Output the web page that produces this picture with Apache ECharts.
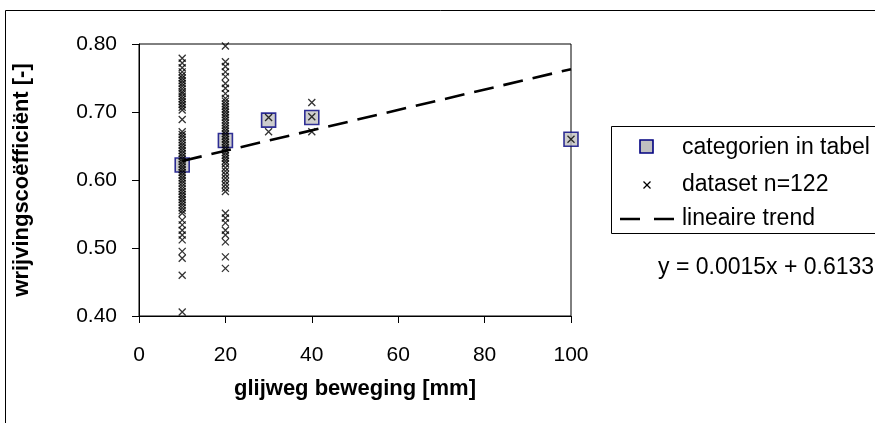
<!DOCTYPE html>
<html><head><meta charset="utf-8">
<script src="https://cdn.jsdelivr.net/npm/echarts@6/dist/echarts.min.js"></script>
<style>html,body{margin:0;padding:0;background:#fff}#c{width:875px;height:423px}</style>
</head><body><div id="c"></div>
<script>
// categories in table (glijweg mm, wrijvingscoëfficiënt)
const catX = [10, 20, 30, 40, 100];
const catY = [0.622, 0.658, 0.688, 0.692, 0.660];
// dataset n=122 : y values per slip distance
const data10 = [0.779,0.772,0.765,0.759,0.754,0.750,0.746,0.742,0.738,0.734,0.730,0.727,0.723,0.719,0.715,0.711,0.707,0.703,0.689,0.671,0.667,0.663,0.659,0.655,0.651,0.647,0.643,0.639,0.635,0.631,0.627,0.623,0.619,0.615,0.611,0.607,0.603,0.599,0.595,0.591,0.587,0.583,0.579,0.575,0.571,0.567,0.563,0.559,0.555,0.551,0.541,0.534,0.526,0.519,0.512,0.495,0.485,0.460,0.406];
const data20 = [0.797,0.774,0.767,0.759,0.752,0.742,0.735,0.727,0.720,0.716,0.712,0.708,0.704,0.700,0.696,0.692,0.688,0.684,0.680,0.676,0.672,0.668,0.664,0.660,0.656,0.652,0.648,0.644,0.640,0.636,0.632,0.628,0.624,0.618,0.613,0.608,0.603,0.598,0.593,0.588,0.583,0.551,0.544,0.537,0.526,0.519,0.509,0.487,0.470];
const data30 = [0.692,0.671];
const data40 = [0.714,0.693,0.671];
const data100 = [0.660];
// linear trend y = 0.0015x + 0.6133 (endpoints as drawn)
const trendX = [10, 100];
const trendY = [0.628, 0.763];

const pts = [];
[[10,data10],[20,data20],[30,data30],[40,data40],[100,data100]].forEach(([x,arr])=>arr.forEach(v=>pts.push([x,v])));
const catData = catX.map((x,i)=>[x,catY[i]]);
const trendData = trendX.map((x,i)=>[x,trendY[i]]);

const FONT = 'Liberation Sans, Arial, sans-serif';
const crossPath = 'path://M0,0L10,10M10,0L0,10';
const chart = echarts.init(document.getElementById('c'), null, {renderer:'canvas'});
chart.setOption({
  animation:false,
  backgroundColor:'#fff',
  grid:{left:139, right:304, top:44, bottom:107, show:true, borderColor:'#000', borderWidth:1, backgroundColor:'transparent'},
  xAxis:{type:'value', min:0, max:100, interval:20,
    axisLine:{show:true, lineStyle:{color:'#000'}}, axisTick:{show:true, length:7, lineStyle:{color:'#000'}},
    splitLine:{show:false},
    axisLabel:{color:'#000', fontFamily:FONT, fontSize:21, margin:29, formatter:v=>String(v)},
    name:'glijweg beweging [mm]', nameLocation:'middle', nameGap:62,
    nameTextStyle:{color:'#000', fontFamily:FONT, fontSize:22, fontWeight:'bold'}},
  yAxis:{type:'value', min:0.4, max:0.8, interval:0.1,
    axisLine:{show:true, lineStyle:{color:'#000'}}, axisTick:{show:true, inside:false, length:7, lineStyle:{color:'#000'}},
    splitLine:{show:false},
    axisLabel:{color:'#000', fontFamily:FONT, fontSize:21, margin:22, formatter:v=>v.toFixed(2)},
    name:'wrijvingscoëfficiënt [-]', nameLocation:'middle', nameGap:106, nameRotate:90,
    nameTextStyle:{color:'#000', fontFamily:FONT, fontSize:22, fontWeight:'bold'}},
  series:[
    {name:'lineaire trend', type:'line', data:trendData, symbol:'none', z:3,
      lineStyle:{color:'#000', width:2.6, type:[20,10]}},
    {name:'dataset n=122', type:'scatter', data:pts, symbol:crossPath, symbolSize:7, z:4,
      itemStyle:{color:'none', borderColor:'#000', borderWidth:1.3}},
    {name:'categorien in tabel', type:'scatter', data:catData, symbol:'rect', symbolSize:14, z:2,
      itemStyle:{color:'#c0c0c0', borderColor:'#000080', borderWidth:1.6}}
  ],
  graphic:[
    {type:'rect', shape:{x:5.5, y:10.5, width:900, height:450}, style:{fill:'none', stroke:'#000', lineWidth:1}, silent:true},
    {type:'rect', shape:{x:611.5, y:126.5, width:300, height:107}, style:{fill:'#fff', stroke:'#000', lineWidth:1}},
    {type:'rect', shape:{x:640, y:140, width:13, height:13}, style:{fill:'#c0c0c0', stroke:'#000080', lineWidth:1.6}},
    {type:'text', style:{x:682, y:148, text:'categorien in tabel', fill:'#000', font:'23px '+FONT, verticalAlign:'middle'}},
    {type:'line', shape:{x1:643.5, y1:181.5, x2:650.5, y2:188.5}, style:{stroke:'#000', lineWidth:1.3}},
    {type:'line', shape:{x1:650.5, y1:181.5, x2:643.5, y2:188.5}, style:{stroke:'#000', lineWidth:1.3}},
    {type:'text', style:{x:682, y:185, text:'dataset n=122', fill:'#000', font:'23px '+FONT, verticalAlign:'middle'}},
    {type:'line', shape:{x1:620, y1:219, x2:674, y2:219}, style:{stroke:'#000', lineWidth:2.6, lineDash:[20,14]}},
    {type:'text', style:{x:682, y:219, text:'lineaire trend', fill:'#000', font:'23px '+FONT, verticalAlign:'middle'}},
    {type:'text', style:{x:658, y:268, text:'y = 0.0015x + 0.6133', fill:'#000', font:'23px '+FONT, verticalAlign:'middle'}}
  ]
});
</script></body></html>
